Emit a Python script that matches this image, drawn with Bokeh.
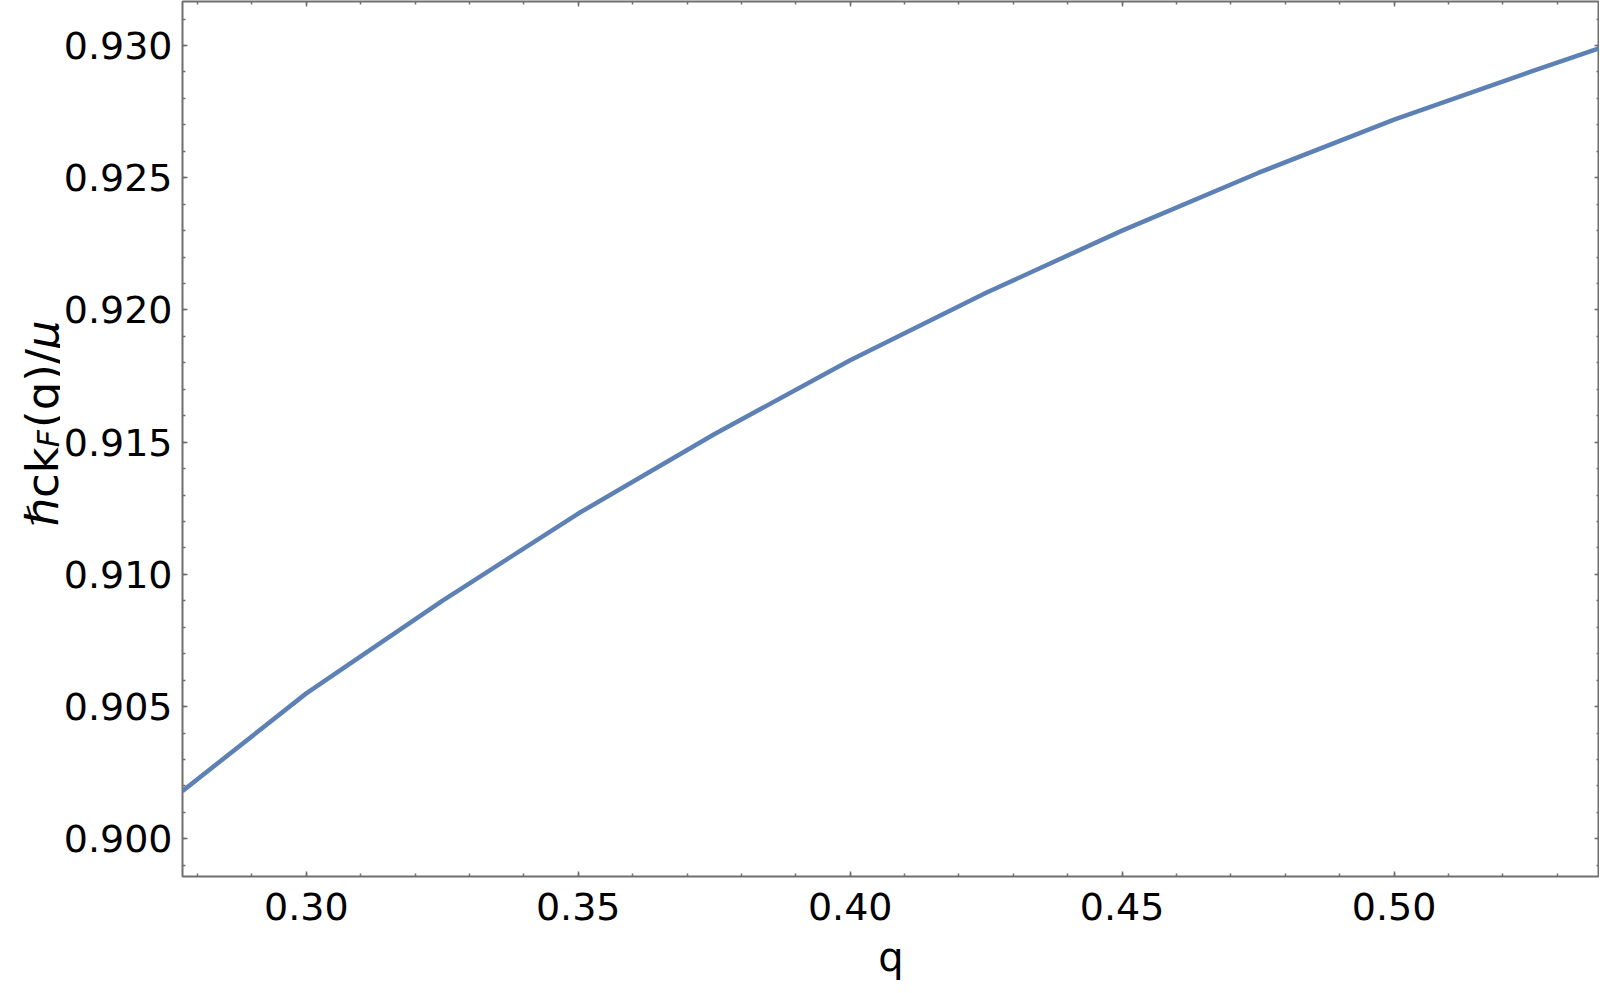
import math
from bokeh.plotting import figure
from bokeh.layouts import row
from bokeh.models import Range1d, LinearAxis, SingleIntervalTicker, NumeralTickFormatter, CustomJSTickFormatter
from bokeh.embed import file_html
from bokeh.resources import INLINE
from bokeh.core.properties import value

# data
q_values = [0.2772, 0.30, 0.325, 0.35, 0.375, 0.40, 0.425, 0.45, 0.475, 0.50, 0.525, 0.5378]
kf_values = [0.9018, 0.9055, 0.9090, 0.9123, 0.9153, 0.9181, 0.92065, 0.9230, 0.92518, 0.9272, 0.9290, 0.9299]
x_label = "q"
y_label_parts = ["ℏck", "F", "(q)/", "μ"]

FONT = "DejaVu Sans"
FRAME = "#6f6f6f"
H = 993
LABEL_W = 60
MAIN_W = 1539
TOP, BOTTOM = 1, 117

p = figure(width=MAIN_W, height=H, output_backend="svg", toolbar_location=None,
           x_range=Range1d(0.27724, 0.53777), y_range=Range1d(0.898575, 0.931664),
           min_border_left=182 - LABEL_W, min_border_right=0, min_border_top=0, min_border_bottom=BOTTOM,
           x_axis_location=None, y_axis_location=None)
p.background_fill_color = "white"
p.border_fill_color = "white"
p.outline_line_color = FRAME
p.outline_line_width = 2
p.grid.visible = False

def style(ax, labels=True):
    ax.axis_line_color = None
    ax.major_tick_in = 5
    ax.major_tick_out = 0
    ax.minor_tick_in = 3
    ax.minor_tick_out = 0
    ax.major_tick_line_color = FRAME
    ax.minor_tick_line_color = FRAME
    ax.major_tick_line_width = 1.5
    ax.minor_tick_line_width = 1.5
    if labels:
        ax.major_label_text_font = FONT
        ax.major_label_text_font_size = "38px"
        ax.major_label_text_color = "black"
    else:
        ax.major_label_standoff = 0

xb = LinearAxis(ticker=SingleIntervalTicker(interval=0.05, num_minor_ticks=5),
                formatter=NumeralTickFormatter(format="0.00"))
style(xb)
xb.major_label_standoff = 16
xb.axis_label = x_label
xb.axis_label_text_font = FONT
xb.axis_label_text_font_style = "normal"
xb.axis_label_text_font_size = "40px"
xb.axis_label_text_color = "black"
xb.axis_label_standoff = 11
p.add_layout(xb, "below")

yl = LinearAxis(ticker=SingleIntervalTicker(interval=0.005, num_minor_ticks=5),
                formatter=NumeralTickFormatter(format="0.000"))
style(yl)
yl.major_label_standoff = 10
p.add_layout(yl, "left")

blank = "return ''"
xa = LinearAxis(ticker=SingleIntervalTicker(interval=0.05, num_minor_ticks=5),
                formatter=CustomJSTickFormatter(code=blank))
style(xa, labels=False)
p.add_layout(xa, "above")
yr = LinearAxis(ticker=SingleIntervalTicker(interval=0.005, num_minor_ticks=5),
                formatter=CustomJSTickFormatter(code=blank))
style(yr, labels=False)
p.add_layout(yr, "right")

p.line(q_values, kf_values, line_color="#5e81b5", line_width=4.5)

# y-axis title strip (rotated text with subscript F); its frame spans the same rows as the main frame
lab = figure(width=LABEL_W, height=H, output_backend="svg", toolbar_location=None,
             x_range=Range1d(0, LABEL_W), y_range=Range1d(BOTTOM, H - TOP),
             min_border_left=0, min_border_right=0, min_border_top=TOP, min_border_bottom=BOTTOM,
             x_axis_location=None, y_axis_location=None)
lab.outline_line_color = None
lab.grid.visible = False
lab.background_fill_color = "white"
lab.border_fill_color = "white"

fs_main, fs_sub = 45, 30
base_x = 42
start_y = H - 526          # page row of the bottom end of the title
advances = [1.763 * fs_main, 0.575 * fs_sub + 2, 1.752 * fs_main]
styles = [(fs_main, "normal", 0), (fs_sub, "italic", 6), (fs_main, "normal", 0), (fs_main, "italic", 0)]
y_pos = start_y
for i, (txt, (fs, fst, shift)) in enumerate(zip(y_label_parts, styles)):
    lab.text(x=[base_x + shift], y=[y_pos], text=[txt], angle=math.pi / 2,
             text_font=value(FONT), text_font_size=value(f"{fs}px"), text_font_style=fst,
             text_color="black", text_align="left", text_baseline="alphabetic")
    if i < len(advances):
        y_pos += advances[i]

layout = row(lab, p, spacing=0)
open("out.html", "w").write(file_html(layout, INLINE))
